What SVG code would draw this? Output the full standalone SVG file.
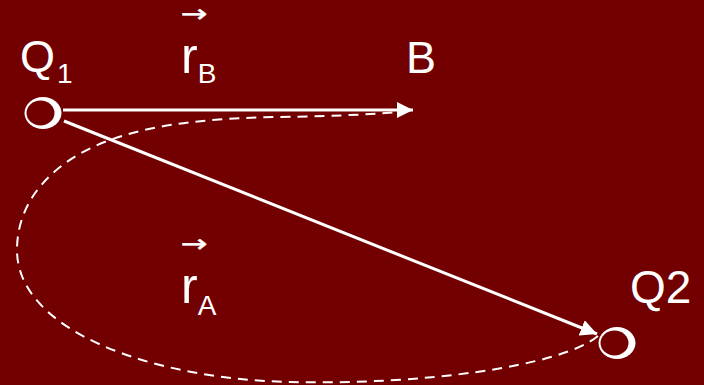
<svg xmlns="http://www.w3.org/2000/svg" width="704" height="385" viewBox="0 0 704 385">
<defs>
<style>
.lbl{font-family:"Liberation Sans",Arial,sans-serif;fill:#fff}
.arw{font-family:"DejaVu Sans",sans-serif;fill:#fff;font-size:22px;stroke:#fff;stroke-width:0.4}
.ln{stroke:#fff;stroke-width:3;fill:none}
.dash{stroke:#fff;stroke-width:2;fill:none;stroke-dasharray:10 7}
.bg{fill:#730000}
</style>
<marker id="ah" viewBox="0 0 10 10" refX="10" refY="5" markerWidth="5.5" markerHeight="5.5" orient="auto" markerUnits="strokeWidth">
<path d="M0,0 L10,5 L0,10 Z" fill="#fff"/>
</marker>
</defs>
<rect width="704" height="385" class="bg"/>
<g id="connectors">
<path class="dash" d="M598,336 C560,367 420,385 290,382 C150,379 17,330 17,250 C17,195 60,158 110,140 C160,122 220,118 280,117 C340,116 380,114 410,111"/>
<line class="ln" x1="63" y1="110" x2="413" y2="110" marker-end="url(#ah)"/>
<line class="ln" x1="64" y1="121" x2="597" y2="334" marker-end="url(#ah)"/>
</g>
<g id="Q1">
<ellipse cx="43" cy="113" rx="18.5" ry="16" fill="#fff"/>
<ellipse cx="40.5" cy="113" rx="14" ry="12.5" class="bg"/>
<text class="lbl" x="20" y="72" font-size="45">Q<tspan font-size="28" dx="2" dy="11">1</tspan></text>
</g>
<g id="B">
<text class="lbl" x="406" y="73" font-size="45">B</text>
</g>
<g id="Q2">
<ellipse cx="617" cy="343" rx="18.5" ry="16" fill="#fff"/>
<ellipse cx="614.5" cy="343" rx="14" ry="12.5" class="bg"/>
<text class="lbl" x="630" y="303" font-size="46">Q2</text>
</g>
<g id="rB">
<text class="arw" transform="translate(194,22) scale(1.45,1.1)" text-anchor="middle">→</text>
<text class="lbl" x="181" y="73" font-size="50">r<tspan font-size="28" dy="10">B</tspan></text>
</g>
<g id="rA">
<text class="arw" transform="translate(194,252) scale(1.45,1.1)" text-anchor="middle">→</text>
<text class="lbl" x="181" y="303" font-size="50">r<tspan font-size="28" dy="12">A</tspan></text>
</g>
</svg>
